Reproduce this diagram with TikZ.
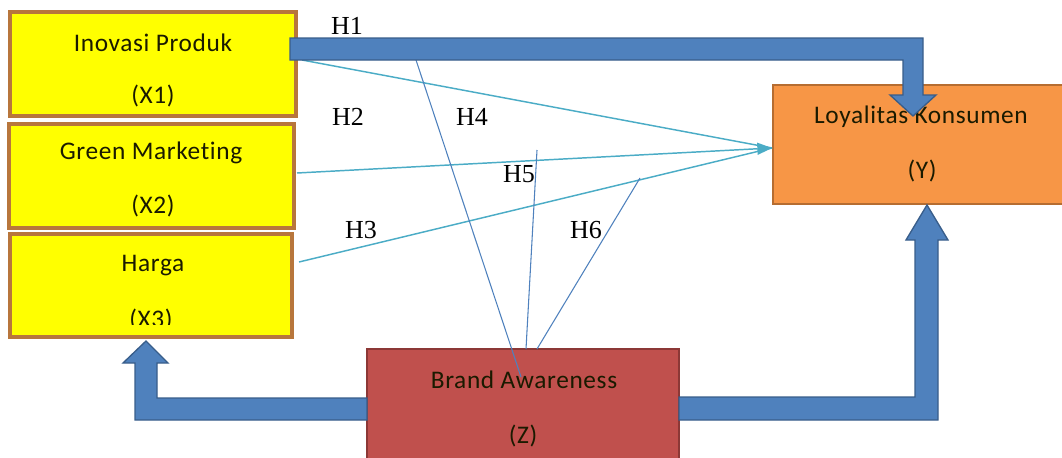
\documentclass[tikz,border=0pt]{standalone}
\usepackage{fontspec}
\setmainfont{Carlito}[Ligatures={NoCommon}, LetterSpace=2.5]
\newfontfamily\hserif{Liberation Serif}
\usetikzlibrary{arrows.meta}
\definecolor{yelfill}{HTML}{FFFF00}
\definecolor{yelline}{HTML}{B8763C}
\definecolor{orfill}{HTML}{F79646}
\definecolor{orline}{HTML}{B66D31}
\definecolor{redfill}{HTML}{C0504D}
\definecolor{redline}{HTML}{8C3836}
\definecolor{bluefill}{HTML}{4F81BD}
\definecolor{blueline}{HTML}{385D8A}
\definecolor{cyanline}{HTML}{4BACC6}
\definecolor{txt}{HTML}{1A1A00}
\tikzset{
  varbox/.style={draw=yelline, fill=yelfill, line width=2.4pt, rectangle, inner sep=0pt},
  ybox/.style={draw=orline, fill=orfill, line width=1.6pt, rectangle, inner sep=0pt},
  zbox/.style={draw=redline, fill=redfill, line width=1.6pt, rectangle, inner sep=0pt},
  lbl/.style={font=\fontsize{19}{22}\selectfont, text=txt, inner sep=0pt},
  hlbl/.style={font=\hserif\fontsize{19.5}{22}\selectfont, text=black, inner sep=0pt},
  fat/.style={fill=bluefill, draw=blueline, line width=1pt, line join=miter},
  cyanln/.style={draw=cyanline, line width=1.1pt},
  blueln/.style={draw=bluefill, line width=0.8pt},
}
\begin{document}
\begin{tikzpicture}[x=0.75pt,y=-0.75pt]
\useasboundingbox (0,0) rectangle (1062,457);
\clip (0,0) rectangle (1062,457);

% boxes
\node[varbox, minimum width=214.5pt, minimum height=78pt] (x1) at (153,64) {};
\node[varbox, minimum width=213.75pt, minimum height=78pt] (x2) at (151.5,176) {};
\node[varbox, minimum width=211.5pt, minimum height=77.25pt] (x3) at (151,285.5) {};
\node[ybox, minimum width=230.25pt, minimum height=89.25pt] (y) at (926.5,144.5) {};
\node[zbox, minimum width=234pt, minimum height=90.75pt] (z) at (523,409.5) {};

% box texts
\node[lbl] (x1a) at (153,43) {Inovasi Produk};
\node[lbl] (x1b) at (153,96) {(X1)};
\node[lbl] (x2a) at (151,153) {Green Marketing};
\node[lbl] (x2b) at (153,206) {(X2)};
\node[lbl] (x3a) at (153,266) {Harga};
\begin{scope}
\clip (10,234) rectangle (292,324);
\node[lbl] (x3b) at (151,320) {(X3)};
\end{scope}
\node[lbl] (ya) at (921,117) {Loyalitas Konsumen};
\node[lbl] (yb) at (922,171) {(Y)};
\node[lbl] (za) at (524,380) {Brand Awareness};
\node[lbl] (zb) at (523,436) {(Z)};

% named points for connectors
\coordinate (ytip) at (772,148);
\coordinate (s1) at (302,60);
\coordinate (s2) at (297,173);
\coordinate (s3) at (299,262);
\coordinate (h4top) at (416,60);
\coordinate (h4end) at (521,377);
\coordinate (h5top) at (537,150);
\coordinate (h5end) at (526,349);
\coordinate (h6top) at (640,178);
\coordinate (h6end) at (537,349);

% thin connectors
\draw[cyanln] (s1) -- (ytip);
\draw[cyanln] (s3) -- (ytip);
\draw[cyanln, -{Triangle[length=11pt,width=9pt]}] (s2) -- (ytip);
\draw[blueln] (h4top) -- (h4end);
\draw[blueln] (h5top) -- (h5end);
\draw[blueln] (h6top) -- (h6end);

% fat arrows
\draw[fat] (290,38) -- (923,38) -- (923,95) -- (936,95) -- (913,116) -- (890,95) -- (903,95) -- (903,60) -- (290,60) -- cycle;
\draw[fat] (679,397) -- (915,397) -- (915,240) -- (906,240) -- (927,205) -- (948,240) -- (938,240) -- (938,420) -- (679,420) -- cycle;
\draw[fat] (367,398) -- (157,398) -- (157,363) -- (168,363) -- (146,341) -- (123,363) -- (135,363) -- (135,420) -- (367,420) -- cycle;

% hypothesis labels
\node[hlbl] (h1) at (347,26) {H1};
\node[hlbl] (h2) at (348,117) {H2};
\node[hlbl] (h3) at (361,230) {H3};
\node[hlbl] (h4) at (472,117) {H4};
\node[hlbl] (h5) at (519,174) {H5};
\node[hlbl] (h6) at (586,230) {H6};
\end{tikzpicture}
\end{document}
